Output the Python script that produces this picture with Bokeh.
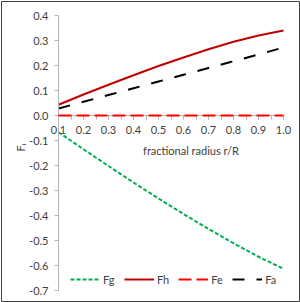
import math
from bokeh.plotting import figure
from bokeh.embed import file_html
from bokeh.resources import INLINE
from bokeh.models import (Legend, LegendItem, Label, FixedTicker,
                          CustomJSTickFormatter)

r = [0.1, 0.2, 0.3, 0.4, 0.5, 0.6, 0.7, 0.8, 0.9, 1.0]
Fg = [-0.067, -0.135, -0.202, -0.268, -0.332, -0.394, -0.454, -0.511, -0.565, -0.613]
Fh = [0.043, 0.084, 0.123, 0.161, 0.198, 0.232, 0.265, 0.295, 0.320, 0.340]
Fe = [0.0, 0.0, 0.0, 0.0, 0.0, 0.0, 0.0, 0.0, 0.0, 0.0]
Fa = [0.028, 0.055, 0.082, 0.109, 0.136, 0.163, 0.190, 0.217, 0.244, 0.272]
y_ticks = [-0.7, -0.6, -0.5, -0.4, -0.3, -0.2, -0.1, 0.0, 0.1, 0.2, 0.3, 0.4]
x_ticks = [0.1, 0.2, 0.3, 0.4, 0.5, 0.6, 0.7, 0.8, 0.9, 1.0]
x_minor = [0.1, 0.15, 0.2, 0.25, 0.3, 0.35, 0.4, 0.45, 0.5, 0.55, 0.6, 0.65, 0.7,
           0.75, 0.8, 0.85, 0.9, 0.95, 1.0]

FONT = "Lato"
TXT = "#404040"
AX = "#B4B4B4"

p = figure(width=300, height=302, output_backend="svg", toolbar_location=None,
           x_range=(-0.128, 1.064), y_range=(-0.744, 0.456),
           min_border_left=1, min_border_right=1, min_border_top=1, min_border_bottom=1)
p.outline_line_color = "#404040"
p.outline_line_width = 1
p.xgrid.visible = False
p.ygrid.visible = False

# y axis at x = 0.1
p.yaxis.fixed_location = 0.1
p.yaxis.bounds = (-0.7, 0.4)
p.yaxis.ticker = FixedTicker(ticks=y_ticks)
p.yaxis.formatter = CustomJSTickFormatter(code="return tick.toFixed(1);")
p.yaxis.axis_line_color = AX
p.yaxis.major_tick_line_color = AX
p.yaxis.major_tick_out = 4
p.yaxis.major_tick_in = 0
p.yaxis.minor_tick_line_color = None
p.yaxis.major_label_standoff = 6
p.yaxis.major_label_text_font = FONT
p.yaxis.major_label_text_font_size = "11px"
p.yaxis.major_label_text_color = TXT

ylab = Label(x=-0.052, y=-0.128, text="Fᵢ", angle=math.pi / 2, text_align="center",
             text_baseline="middle", text_font=FONT, text_font_size="11px", text_color=TXT)
p.add_layout(ylab)

# x axis crossing at y = 0
p.xaxis.fixed_location = 0
p.xaxis.bounds = (0.1, 1.0)
p.xaxis.ticker = FixedTicker(ticks=x_ticks, minor_ticks=x_minor)
p.xaxis.formatter = CustomJSTickFormatter(code="return tick.toFixed(1);")
p.xaxis.axis_line_color = AX
p.xaxis.major_tick_line_color = AX
p.xaxis.minor_tick_line_color = AX
p.xaxis.major_tick_out = 4
p.xaxis.major_tick_in = 0
p.xaxis.minor_tick_out = 4
p.xaxis.minor_tick_in = 0
p.xaxis.major_label_standoff = 6
p.xaxis.major_label_text_font = FONT
p.xaxis.major_label_text_font_size = "11px"
p.xaxis.major_label_text_color = TXT

title = Label(x=0.63, y=-0.14, text="fractional radius r/R", text_align="center",
              text_baseline="middle", text_font=FONT, text_font_size="11px", text_color=TXT)
p.add_layout(title)

rg = p.line(r, Fg, line_color="#00B050", line_width=2, line_dash="4 2")
rh = p.line(r, Fh, line_color="#C00000", line_width=2)
re_ = p.line(r, Fe, line_color="#FF0000", line_width=2, line_dash="13 5", level="overlay")
ra = p.line(r, Fa, line_color="black", line_width=2, line_dash="12 12")

legend = Legend(items=[LegendItem(label="Fg", renderers=[rg]),
                       LegendItem(label="Fh", renderers=[rh]),
                       LegendItem(label="Fe", renderers=[re_]),
                       LegendItem(label="Fa", renderers=[ra])],
                orientation="horizontal", location=(69, 15),
                background_fill_alpha=0, border_line_color=None,
                padding=0, margin=0, spacing=9, glyph_width=30, glyph_height=14,
                label_standoff=3, label_width=12, label_text_font=FONT,
                label_text_font_size="11px", label_text_color=TXT, label_height=14)
p.add_layout(legend)

open("out.html", "w").write(file_html(p, INLINE))
